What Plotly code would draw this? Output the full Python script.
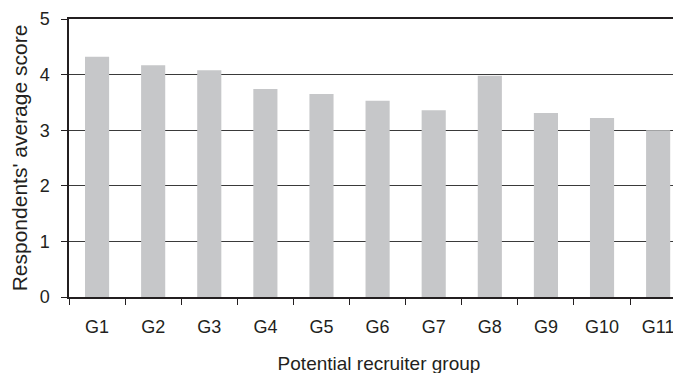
import plotly.graph_objects as go

groups = ["G1", "G2", "G3", "G4", "G5", "G6", "G7", "G8", "G9", "G10", "G11"]
avg_score = [4.32, 4.17, 4.08, 3.74, 3.65, 3.53, 3.36, 3.98, 3.31, 3.22, 3.0]

font = dict(family="Liberation Sans, Arial, sans-serif", size=18, color="#231f20")

fig = go.Figure(go.Bar(
    x=groups, y=avg_score,
    marker=dict(color="#c6c7c9", line=dict(width=0)),
    width=0.43,
))

# the page body adds an 8px offset, so margins are shifted to compensate
fig.update_layout(
    width=681, height=373,
    margin=dict(l=61, r=0, t=11, b=84),
    plot_bgcolor="white", paper_bgcolor="white",
    font=font,
    showlegend=False,
)

fig.update_xaxes(
    range=[-0.5, 10.55], automargin=False,
    showline=True, mirror=True, linecolor="#231f20", linewidth=1.5,
    ticks="outside", tickson="boundaries", ticklen=6, tickcolor="#231f20",
    ticklabelstandoff=13,
    showgrid=False,
    title=dict(text="Potential recruiter group", standoff=20, font=dict(size=19)),
)
fig.update_yaxes(
    range=[0, 5], tickvals=[0, 1, 2, 3, 4, 5], automargin=False,
    showline=True, linecolor="#231f20", linewidth=1.5,
    ticks="outside", ticklen=6, tickcolor="#231f20",
    ticklabelstandoff=8,
    showgrid=True, gridcolor="#3a3a3a", gridwidth=1.2,
    zeroline=False,
    title=dict(text="Respondents' average score", standoff=10, font=dict(size=21)),
)

fig.write_html("out.html")
